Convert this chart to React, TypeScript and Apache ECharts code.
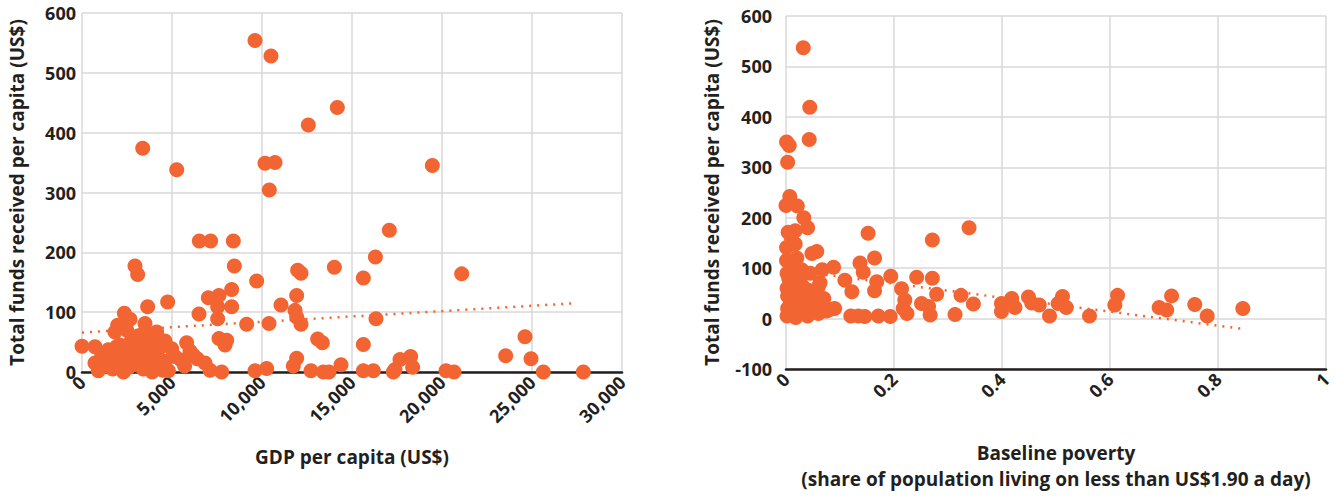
import { useEffect, useRef } from 'react';
import * as echarts from 'echarts';

// Left panel: GDP per capita (US$) vs total funds received per capita (US$)
const gdpFunds: [number, number][] = [
  [0, 43], [722, 42], [1093, 26], [722, 15], [907, 2], [1463, 37], [1926, 42], [1833, 67],
  [1982, 78], [2352, 98], [2667, 88], [2481, 70], [3500, 81], [3463, 65], [3648, 109], [4759, 117],
  [4148, 67], [3833, 53], [3315, 48], [2944, 39], [2944, 177], [3093, 163], [5261, 338], [3372, 374],
  [4611, 52], [4981, 39], [5167, 26], [5815, 49], [6185, 28], [6833, 15], [7111, 3], [7759, 0],
  [6519, 219], [7148, 219], [8407, 219], [8463, 177], [8315, 138], [8315, 109], [7019, 124], [7611, 128],
  [7537, 109], [7537, 89], [6500, 97], [7611, 56], [8037, 53], [7944, 45], [9148, 80], [9704, 152],
  [9611, 554], [10500, 528], [10167, 349], [10722, 350], [10407, 304], [10389, 81], [9611, 2], [10259, 6],
  [11926, 23], [11741, 10], [12722, 2], [13093, 55], [13352, 49], [13407, 0], [13722, 0], [14389, 12],
  [12574, 413], [14185, 442], [11982, 170], [12167, 165], [11926, 128], [11056, 112], [11834, 103], [11926, 92],
  [12167, 80], [14019, 175], [15630, 157], [16300, 192], [17074, 237], [19463, 345], [21093, 164], [16333, 89],
  [15630, 46], [15630, 2], [16185, 2], [17296, 0], [17389, 4], [17667, 21], [18259, 26], [18370, 8],
  [20222, 2], [20667, 0], [24611, 59], [23537, 27], [24944, 22], [25630, 0], [27852, 0],
  [1300, 10], [1500, 20], [1700, 5], [2000, 28], [2200, 15], [2400, 35], [2600, 8], [2800, 22],
  [3000, 12], [3200, 30], [3400, 5], [3600, 20], [3800, 35], [4000, 10], [4200, 25], [4400, 5],
  [4600, 18], [4800, 2], [2100, 45], [2700, 50], [3100, 60], [3700, 45], [4300, 40], [5500, 20],
  [5700, 10], [6000, 35], [6400, 22], [1000, 8], [2300, 0], [3900, 0], [4500, 3]
];
const gdpTrend: [number, number][] = [[0, 66], [27400, 115]];

// Right panel: baseline poverty share vs total funds received per capita (US$)
const povertyFunds: [number, number][] = [
  [0.032, 537], [0.044, 419], [0.043, 355], [0.001, 350], [0.006, 343], [0.003, 310], [0.007, 242], [0, 224],
  [0.021, 223], [0.033, 200], [0.04, 180], [0.004, 171], [0.017, 174], [0.001, 141], [0.017, 148], [0.048, 129],
  [0.057, 133], [0.001, 115], [0.01, 102], [0.029, 97], [0.067, 97], [0.088, 102], [0.137, 110], [0.143, 92],
  [0.164, 120], [0.152, 169], [0.271, 156], [0.339, 180], [0.063, 71], [0.109, 76], [0.122, 53], [0.168, 73],
  [0.164, 55], [0.194, 84], [0.242, 82], [0.271, 80], [0.214, 59], [0.279, 48], [0.324, 46], [0.347, 29],
  [0.22, 37], [0.217, 20], [0.224, 10], [0.251, 30], [0.264, 24], [0.267, 7], [0.313, 8], [0.12, 5],
  [0.134, 5], [0.146, 4], [0.171, 5], [0.193, 4], [0.081, 18], [0.041, 56], [0.06, 63], [0.399, 30],
  [0.399, 14], [0.418, 40], [0.424, 22], [0.449, 43], [0.455, 31], [0.469, 27], [0.488, 5], [0.512, 44],
  [0.504, 30], [0.519, 22], [0.562, 5], [0.614, 46], [0.609, 27], [0.691, 22], [0.705, 17], [0.714, 45],
  [0.757, 28], [0.78, 5], [0.846, 20],
  [0.002, 90], [0.005, 80], [0.01, 70], [0.002, 60], [0.015, 55], [0.003, 45], [0.02, 40], [0.008, 30],
  [0.025, 25], [0.003, 20], [0.03, 15], [0.012, 10], [0.002, 5], [0.04, 5], [0.018, 2], [0.045, 30],
  [0.05, 45], [0.035, 50], [0.028, 85], [0.045, 90], [0.055, 20], [0.06, 10], [0.02, 120], [0.01, 160],
  [0.03, 65], [0.07, 40], [0.075, 15], [0.09, 20]
];
const povertyTrend: [number, number][] = [[0, 97], [0.85, -21]];

const ORANGE = '#F26532';
const INK = '#231F20';
const GRID = '#d9d9d9';
const FONT = 'Open Sans';

export default function App() {
  const ref = useRef<HTMLDivElement>(null);
  useEffect(() => {
    if (!ref.current) return;
    const chart = echarts.init(ref.current, undefined, { renderer: 'svg' });
    const tickLabel = { color: INK, fontFamily: FONT, fontWeight: 700 as const, fontSize: 18 };
    const nameStyle = { color: INK, fontFamily: FONT, fontWeight: 700 as const, fontSize: 19 };
    const split = { show: true, lineStyle: { color: GRID, width: 1.5 } };
    chart.setOption({
      animation: false,
      backgroundColor: '#ffffff',
      grid: [
        { left: 82, top: 13, width: 540, height: 359 },
        { left: 786, top: 16, width: 540, height: 357 }
      ],
      xAxis: [
        {
          gridIndex: 0, type: 'value', min: 0, max: 30000, interval: 5000,
          name: 'GDP per capita (US$)', nameLocation: 'middle', nameGap: 75, nameTextStyle: nameStyle,
          axisLine: { show: true, onZero: false, lineStyle: { color: INK, width: 2.5 } },
          axisTick: { show: false },
          axisLabel: { ...tickLabel, rotate: 45, margin: 7, formatter: (v: number) => v.toLocaleString('en-US') },
          splitLine: split
        },
        {
          gridIndex: 1, type: 'value', min: 0, max: 1, interval: 0.2,
          name: 'Baseline poverty\n(share of population living on less than US$1.90 a day)',
          nameLocation: 'middle', nameGap: 71,
          nameTextStyle: { ...nameStyle, lineHeight: 26 },
          axisLine: { show: true, onZero: false, lineStyle: { color: INK, width: 2.5 } },
          axisTick: { show: false },
          axisLabel: { ...tickLabel, rotate: 45, margin: 7 },
          splitLine: split
        }
      ],
      yAxis: [
        {
          gridIndex: 0, type: 'value', min: 0, max: 600, interval: 100,
          name: 'Total funds received per capita (US$)', nameLocation: 'middle', nameGap: 56,
          nameTextStyle: nameStyle,
          axisLine: { show: false }, axisTick: { show: false },
          axisLabel: { ...tickLabel, margin: 6 },
          splitLine: split
        },
        {
          gridIndex: 1, type: 'value', min: -100, max: 600, interval: 100,
          name: 'Total funds received per capita (US$)', nameLocation: 'middle', nameGap: 65,
          nameTextStyle: nameStyle,
          axisLine: { show: false }, axisTick: { show: false },
          axisLabel: { ...tickLabel, margin: 14 },
          splitLine: split
        }
      ],
      series: [
        {
          type: 'line', xAxisIndex: 0, yAxisIndex: 0, data: gdpTrend, symbol: 'none', z: 1,
          lineStyle: { color: ORANGE, width: 2.5, type: [2, 6] }
        },
        {
          type: 'scatter', xAxisIndex: 0, yAxisIndex: 0, data: gdpFunds, symbolSize: 15, z: 2,
          itemStyle: { color: ORANGE, opacity: 1 }
        },
        {
          type: 'line', xAxisIndex: 1, yAxisIndex: 1, data: povertyTrend, symbol: 'none', z: 1,
          lineStyle: { color: ORANGE, width: 2.5, type: [2, 6] }
        },
        {
          type: 'scatter', xAxisIndex: 1, yAxisIndex: 1, data: povertyFunds, symbolSize: 15, z: 2,
          itemStyle: { color: ORANGE, opacity: 1 }
        }
      ]
    });
    return () => chart.dispose();
  }, []);
  return (
    <div
      ref={ref}
      style={{ position: 'fixed', left: 0, top: 0, width: 1338, height: 497, background: '#fff' }}
    />
  );
}
